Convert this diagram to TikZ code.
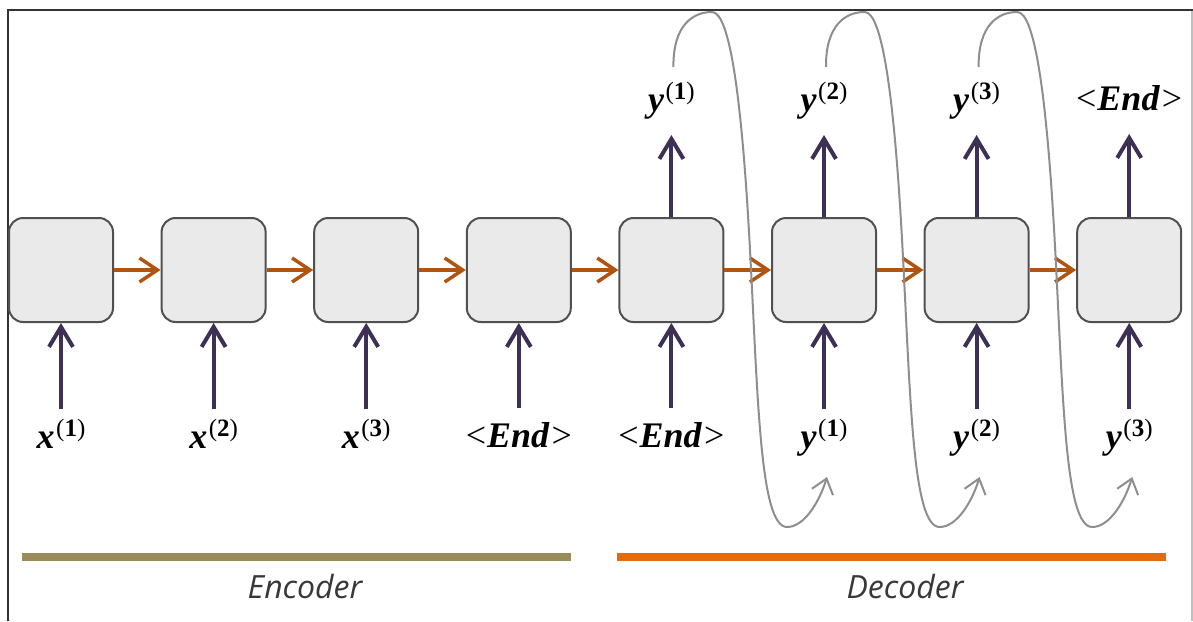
\documentclass[tikz,border=0pt]{standalone}
\usepackage{fontspec}
\newfontfamily\captionsans{Open Sans}
\newfontfamily\tokfont{Liberation Serif}
\usetikzlibrary{arrows.meta,calc}

\definecolor{cellfill}{HTML}{EAEAEA}
\definecolor{celledge}{HTML}{505050}
\definecolor{statearrow}{HTML}{B05410}
\definecolor{iodark}{HTML}{3E2F55}
\definecolor{feedgray}{HTML}{8E8E8E}
\definecolor{encbar}{HTML}{9A8C58}
\definecolor{decbar}{HTML}{E36C0E}
\definecolor{captext}{HTML}{383838}
\definecolor{framedark}{HTML}{333333}
\definecolor{framelight}{HTML}{C0C0C0}

% sequence symbols: bold italic letter with an upright time-step index
\newcommand{\tokvar}[2]{\textbf{\textit{#1}}\kern1.5pt\raisebox{12pt}{\fontsize{25}{27}\selectfont(\textbf{#2})}}
\newcommand{\tokEnd}{<\kern1pt\textbf{\textit{End}}\kern2pt>}

\begin{document}
\begin{tikzpicture}[x=1pt,y=-1pt,
  cell/.style={draw=celledge, line width=2pt, fill=cellfill, rounded corners=14pt,
               minimum width=104pt, minimum height=104pt, inner sep=0pt},
  statelink/.style={draw=statearrow, line width=3.5pt,
               -{Straight Barb[length=18pt,width=24pt]}},
  iolink/.style={draw=iodark, line width=4pt,
               -{Straight Barb[length=20pt,width=24pt]}},
  feedback/.style={draw=feedgray, line width=2pt,
               -{Straight Barb[length=14pt,width=22pt]}},
  tok/.style={inner sep=0pt, anchor=base, font=\tokfont\fontsize{36}{40}\selectfont},
  caption/.style={inner sep=0pt, text=captext, font=\captionsans\itshape\fontsize{32}{38}\selectfont},
  bar/.style={line width=8pt}
]
\useasboundingbox (0,0) rectangle (1193,621);

% frame
\draw[framedark, line width=2pt] (7.5,621) -- (7.5,9.5) -- (1193,9.5);
\draw[framelight, line width=1.5pt] (1192,10.5) -- (1192,621);

% recurrent cells
\foreach \i/\x in {1/61,2/213.6,3/366.2,4/518.8,5/671.4,6/824,7/976.6,8/1129.2}
  \node[cell] (c\i) at (\x,270) {};

% input tokens
\node[tok] (in1) at (c1 |- 0,448) {\tokvar{x}{1}};
\node[tok] (in2) at (c2 |- 0,448) {\tokvar{x}{2}};
\node[tok] (in3) at (c3 |- 0,448) {\tokvar{x}{3}};
\node[tok] (in4) at (c4 |- 0,447) {\tokEnd};
\node[tok] (in5) at (c5 |- 0,447) {\tokEnd};
\node[tok] (in6) at (c6 |- 0,448) {\tokvar{y}{1}};
\node[tok] (in7) at (c7 |- 0,448) {\tokvar{y}{2}};
\node[tok] (in8) at (c8 |- 0,448) {\tokvar{y}{3}};

% output tokens
\node[tok] (out1) at (c5 |- 0,111) {\tokvar{y}{1}};
\node[tok] (out2) at (c6 |- 0,111) {\tokvar{y}{2}};
\node[tok] (out3) at (c7 |- 0,111) {\tokvar{y}{3}};
\node[tok] (out4) at (c8 |- 0,110) {\tokEnd};

% hidden state links
\foreach \a/\b in {1/2,2/3,3/4,4/5,5/6,6/7,7/8}
  \draw[statelink] (c\a.east) -- (c\b.west);

% inputs into cells
\foreach \i in {1,...,8}
  \draw[iolink, shorten <=39pt] (c\i.south |- in\i.base) -- (c\i.south);

% outputs from decoder cells
\foreach \o/\c in {1/5,2/6,3/7,4/8}
  \draw[iolink, shorten >=24pt] (c\c.north) -- (c\c.north |- out\o.base);

% feedback: each output becomes the next input
\foreach \o/\i [count=\k from 0] in {1/6,2/7,3/8} {
  \coordinate (fs\o) at ($(out\o.base)+(2,-44)$);
  \coordinate (fe\o) at ($(in\i.base)+(3,29)$);
  \begin{scope}[xshift=\k*152.6pt]
    \draw[feedback] (fs\o) .. controls (673,25) and (693,12) .. (712,12)
      .. controls (730,12) and (742,100) .. (750,250)
      .. controls (758,400) and (760,527) .. (787,527)
      .. controls (805,527) and (820,500) .. (fe\o);
  \end{scope}
}

% encoder / decoder spans
\draw[encbar, bar] (22,557) -- (571,557);
\draw[decbar, bar] (617,557) -- (1166,557);
\node[caption] (enc) at (305,586) {Encoder};
\node[caption] (dec) at (905,586) {Decoder};
\end{tikzpicture}
\end{document}
